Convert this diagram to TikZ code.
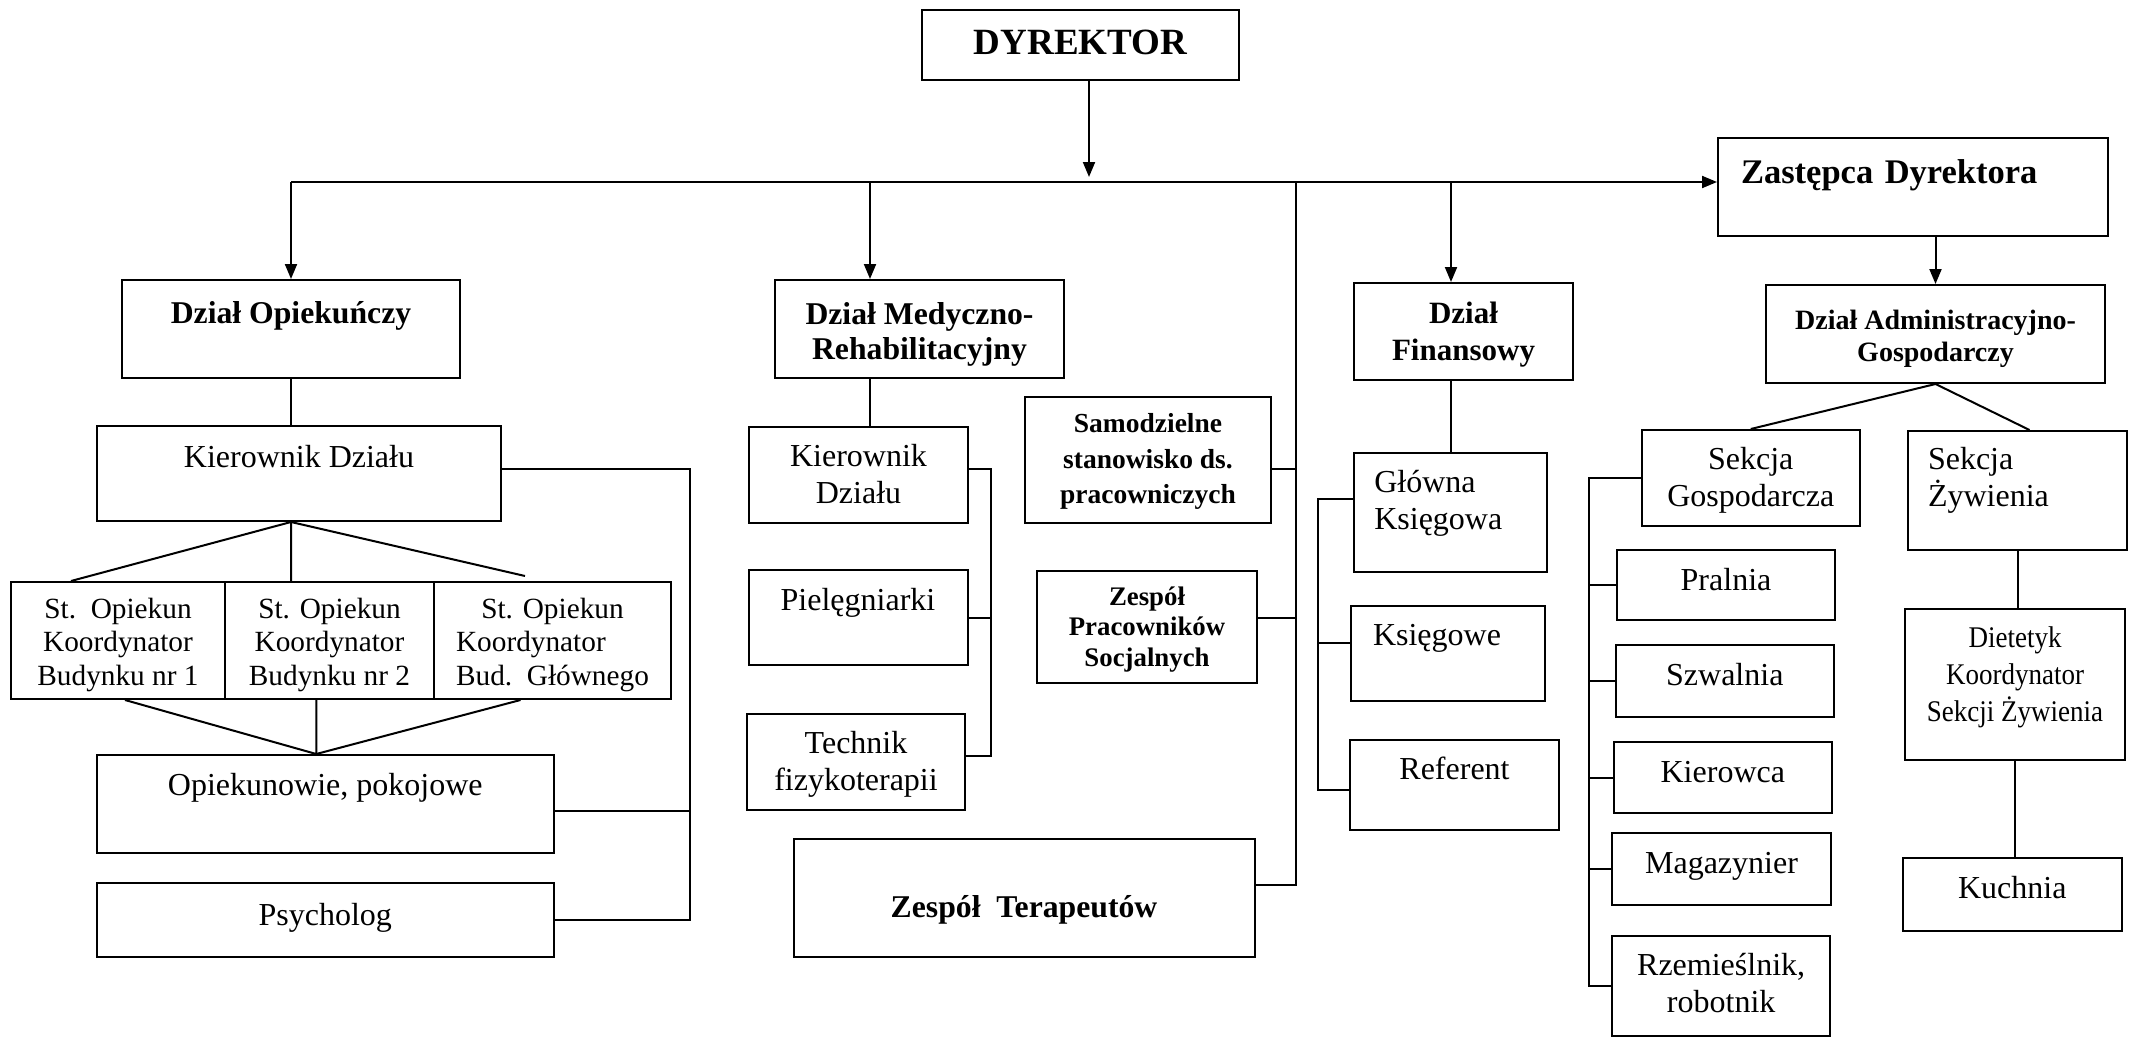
\documentclass[tikz,border=0pt]{standalone}
\usepackage{fontspec}
\setmainfont{Liberation Serif}
\newfontfamily\condrm{Liberation Serif}[FakeStretch=0.9]
\usetikzlibrary{arrows.meta,calc}
\newcommand\ctr[1]{\begin{tabular}[t]{@{}c@{}}#1\end{tabular}}
\newcommand\lft[1]{\begin{tabular}[t]{@{}l@{}}#1\end{tabular}}

\begin{document}
\begin{tikzpicture}[x=1pt, y=-1pt, line width=2pt,
    box/.style={draw, anchor=north west, inner sep=0pt},
    sz/.style n args={3}{minimum width=#1pt, text height=#2pt, text depth=#3pt},
    lsz/.style n args={4}{text width=#1pt, inner xsep=#2pt, text height=#3pt,
      text depth=#4pt, align=left},
    reg/.style={font=\fontsize{32}{37}\selectfont},
    hd/.style 2 args={font=\fontsize{#1}{#2}\selectfont\bfseries},
    st/.style={box, sz={#1}{36.5}{80.5}, font=\fontsize{29.3}{33.3}\selectfont},
    arr/.style={-{Triangle[length=15pt,width=12pt]}}]
  \useasboundingbox (0,0) rectangle (2135,1038);
  % ---- top level -----------------------------------------------------
  \node[box, sz={317}{45}{25}, hd={37}{40}] (dyr) at (921,9) {DYREKTOR};
  \node[box, lsz={344}{23}{45}{53}, hd={34.5}{38}] (zast) at (1717,137)
    {Zastępca Dyrektora};
  \node[box, sz={338}{43}{55}, hd={31.7}{35}] (opk) at (121,279) {Dział Opiekuńczy};
  \node[box, sz={289}{44}{54}, hd={31.7}{35}] (med) at (774,279)
    {\ctr{Dział Medyczno-\\Rehabilitacyjny}};
  \node[box, sz={219}{40}{57}, hd={31}{37}] (fin) at (1353,282)
    {\ctr{Dział\\Finansowy}};
  \node[box, sz={339}{44}{54}, hd={28}{32}] (adm) at (1765,284)
    {\ctr{Dział Administracyjno-\\Gospodarczy}};
  % ---- Dzial Opiekunczy ----------------------------------------------
  \node[box, sz={404}{41}{54}, reg] (kopk) at (96,425) {Kierownik Działu};
  \node[st=214] (st1) at (10,581) {\ctr{St.\ \ Opiekun\\Koordynator\\Budynku nr 1}};
  \node[st=209] (st2) at (224,581) {\ctr{St. Opiekun\\Koordynator\\Budynku nr 2}};
  \node[st=237] (st3) at (433,581)
    {\lft{\multicolumn{1}{@{}c@{}}{St. Opiekun}\\Koordynator\\Bud.\ \ Głównego}};
  \node[box, sz={457.5}{40}{58}, reg] (opie) at (95.5,754) {Opiekunowie, pokojowe};
  \node[box, sz={457.5}{42}{32}, reg] (psy) at (95.5,882) {Psycholog};
  % ---- Dzial Medyczno-Rehabilitacyjny ---------------------------------
  \node[box, sz={219}{39}{57}, reg] (kmed) at (748,426) {\ctr{Kierownik\\Działu}};
  \node[box, sz={219}{40.6}{54.4}, reg] (piel) at (747.5,569) {Pielęgniarki};
  \node[box, sz={218}{39}{57}, reg] (tech) at (746,713)
    {\ctr{Technik\\fizykoterapii}};
  % ---- direct posts --------------------------------------------------
  \node[box, sz={246}{35.7}{90.3}, hd={27.5}{35.4}] (samo) at (1024,396)
    {\ctr{Samodzielne\\stanowisko ds.\\pracowniczych}};
  \node[box, sz={220}{34}{78}, hd={26.8}{30.5}] (socj) at (1036,570)
    {\ctr{Zespół\\Pracowników\\Socjalnych}};
  \node[box, sz={461}{78}{40}, hd={31.7}{35}] (ter) at (792.5,838)
    {Zespół\ \ Terapeutów};
  % ---- Dzial Finansowy -----------------------------------------------
  \node[box, lsz={152}{20.6}{39.3}{80}, reg] (glow) at (1352.7,451.7)
    {\lft{Główna\\Księgowa}};
  \node[box, lsz={150}{22}{39.4}{55.6}, reg] (ksie) at (1350,604.6) {Księgowe};
  \node[box, sz={209}{39.4}{51}, reg] (ref) at (1349,738.6) {Referent};
  % ---- Dzial Administracyjno-Gospodarczy -----------------------------
  \node[box, sz={218.5}{39}{57}, reg] (gosp) at (1640.5,429)
    {\ctr{Sekcja\\Gospodarcza}};
  \node[box, lsz={179}{20}{38}{81}, reg] (zyw) at (1907,430) {\lft{Sekcja\\Żywienia}};
  \node[box, sz={218}{40.3}{30}, reg] (pral) at (1616,548.7) {Pralnia};
  \node[box, sz={218.4}{40}{32}, reg] (szw) at (1614.6,644) {Szwalnia};
  \node[box, sz={218.4}{40}{31}, reg] (kier) at (1612.6,741) {Kierowca};
  \node[box, sz={219}{40}{32.3}, reg] (mag) at (1611,832) {Magazynier};
  \node[box, sz={218.3}{39.3}{60.7}, reg] (rzem) at (1611,935)
    {\ctr{Rzemieślnik,\\robotnik}};
  \node[box, sz={220}{38.5}{112.5}, font=\condrm\fontsize{30}{37}\selectfont]
    (diet) at (1904,608) {\ctr{Dietetyk\\Koordynator\\Sekcji Żywienia}};
  \node[box, sz={218.5}{40}{33}, reg] (kuch) at (1902,857) {Kuchnia};
  % ---- bus from the director -----------------------------------------
  \coordinate (jdyr) at (1089,182);
  \coordinate (jbus) at (291,182);
  \coordinate (jmed) at (870,182);
  \coordinate (jmid) at (1296,182);
  \coordinate (jfin) at (1451,182);
  \draw[arr, shorten >=5pt] (dyr.south -| jdyr) -- (jdyr);
  \draw[arr] (jbus) -- (jbus -| zast.west);
  \draw[arr] (jbus) -- (jbus |- opk.north);
  \draw[arr] (jmed) -- (jmed |- med.north);
  \draw[arr] (jfin) -- (jfin |- fin.north);
  \draw[arr] (zast.south -| adm.north) -- (adm.north);
  % ---- Dzial Opiekunczy links ----------------------------------------
  \draw (opk.south -| jbus) -- (jbus |- kopk.north);
  \coordinate (kfan) at (kopk.south -| jbus);
  \draw ($(st1.north west)+(61,0)$) -- (kfan) -- (kfan |- st2.north);
  \draw (kfan) -- ($(st3.north west)+(92,-5)$);
  \coordinate (ofan) at ($(opie.north)+(-9,0)$);
  \draw ($(st1.south)+(7,0)$) -- (ofan) -- (ofan |- st2.south);
  \draw ($(st3.south)+(-32,0)$) -- (ofan);
  \draw ([yshift=5pt]kopk.east) -- ++(188,0) coordinate (kbr) |- (psy.east);
  \draw ([yshift=-7pt]opie.east) -- ++(135,0);
  % ---- Dzial Medyczno-Rehabilitacyjny links --------------------------
  \draw (jmed |- med.south) -- (jmed |- kmed.north);
  \draw ([yshift=6pt]kmed.east) -- ++(21.5,0) coordinate (mbr)
    |- ([yshift=6pt]tech.east);
  \draw (piel.east) -- (piel.east -| mbr);
  % ---- direct posts links --------------------------------------------
  \draw (jmid) |- ([yshift=13pt]ter.east);
  \draw ([yshift=-9pt]samo.east) -- ([yshift=-9pt]samo.east -| jmid);
  \draw ([yshift=9pt]socj.east) -- ([yshift=9pt]socj.east -| jmid);
  % ---- Dzial Finansowy links -----------------------------------------
  \draw (jfin |- fin.south) -- (jfin |- glow.north);
  \draw ([yshift=13pt]glow.west) -- ++(-35,0) coordinate (fbr)
    |- ([yshift=-5pt]ref.west);
  \draw ([yshift=10pt]ksie.west) -- ([yshift=10pt]ksie.west -| fbr);
  % ---- Dzial Administracyjno-Gospodarczy links -----------------------
  \draw (gosp.north) -- (adm.south) -- ($(zyw.north)+(12,0)$);
  \draw (gosp.west) -- ++(-52,0) coordinate (gbr) |- (rzem.west);
  \foreach \n in {pral,szw,kier,mag}
    \draw (\n.west) -- (\n.west -| gbr);
  \draw (zyw.south) -- (zyw.south |- diet.north);
  \draw (diet.south) -- (diet.south |- kuch.north);
\end{tikzpicture}
\end{document}
